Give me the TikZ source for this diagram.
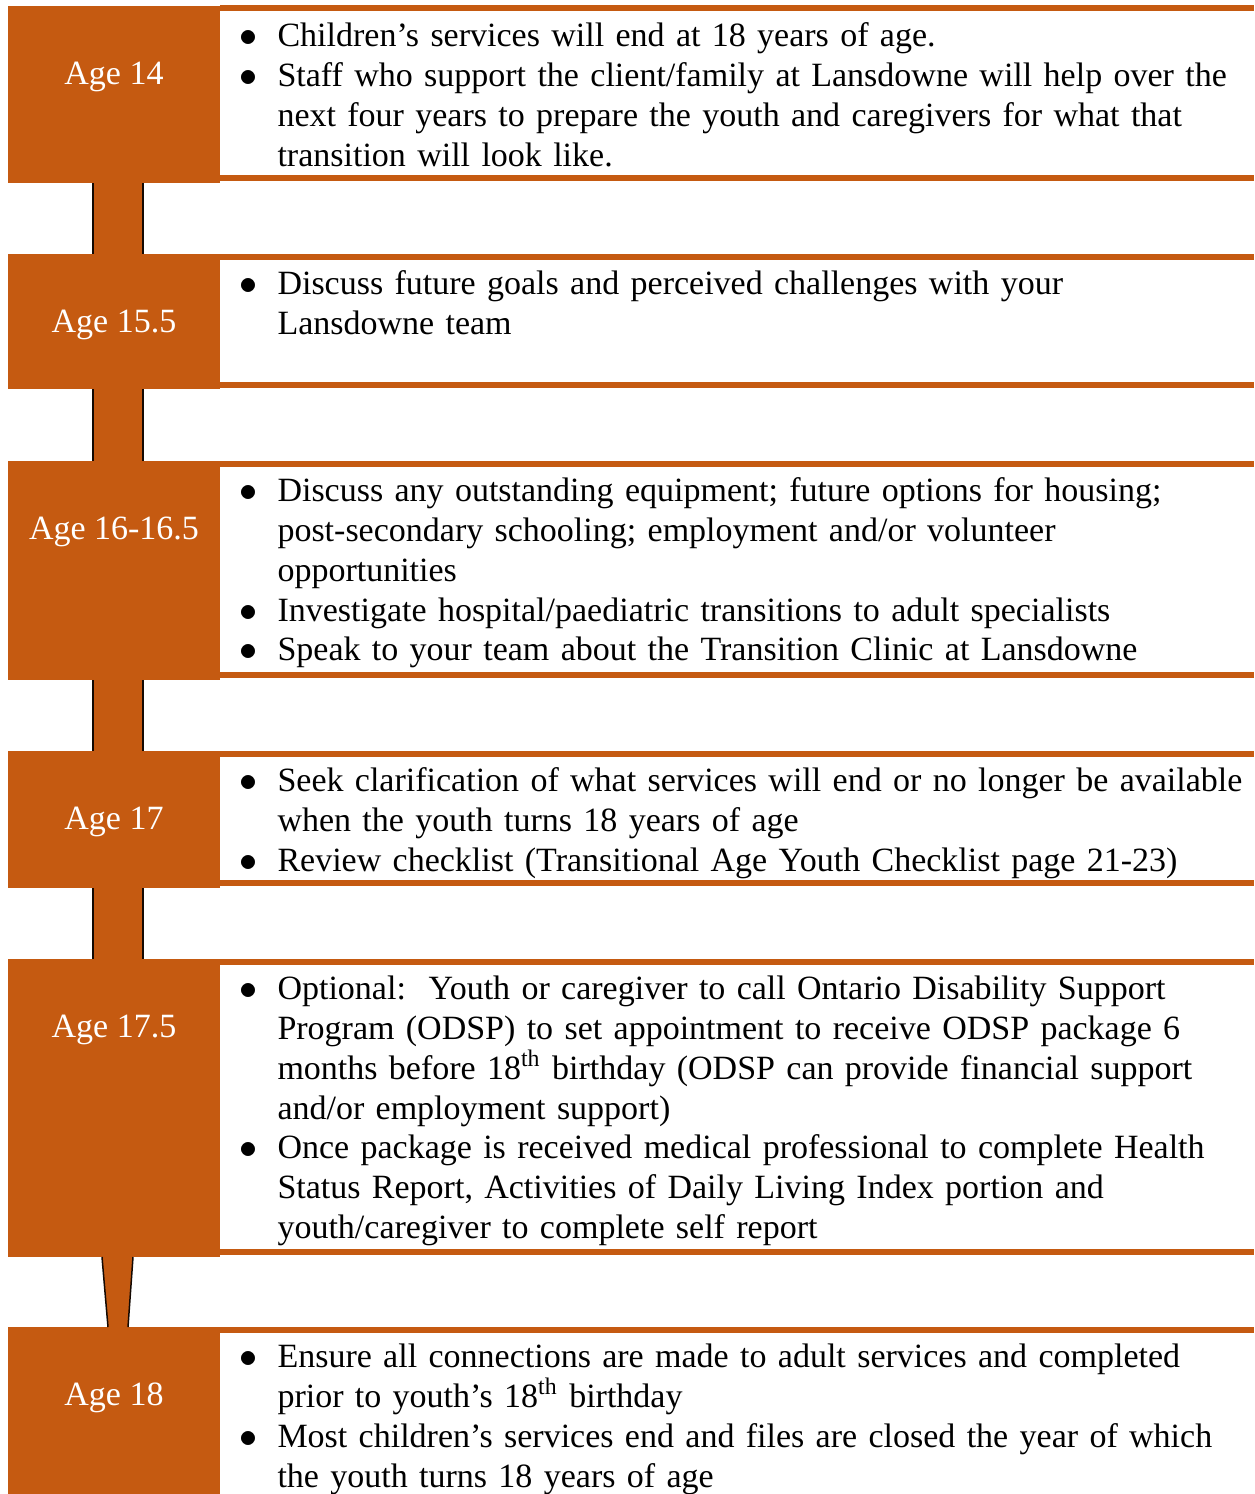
\documentclass[tikz,border=0pt]{standalone}
\usepackage{fontspec}
\setmainfont{Liberation Serif}
\usepackage{enumitem}
\usetikzlibrary{calc,fit}
\definecolor{rust}{HTML}{C55A11}
\setlist[itemize]{nosep, leftmargin=18.8pt, labelsep=8.2pt, label=$\bullet$}

\begin{document}
\begin{tikzpicture}[x=0.4pt, y=-0.4pt,
  agebox/.style={fill=rust, inner sep=0pt, outer sep=0pt},
  agelabel/.style={text=white, anchor=base, inner sep=0pt, font=\fontsize{13.6}{15.9}\selectfont},
  notes/.style={anchor=base west, inner sep=0pt, text width=440pt, align=left, font=\fontsize{13.6}{15.9}\selectfont},
  rule/.style={fill=rust},
  stem/.style={fill=rust},
  stemline/.style={draw=black!90!rust, line width=0.6pt}]

\useasboundingbox (0,0) rectangle (1254,1494);
\clip (0,0) rectangle (1254,1494);

\node[agebox, fit={(8,6) (220,183)}] (b14) {};
\node[agebox, fit={(8,254) (220,389)}] (b155) {};
\node[agebox, fit={(8,461) (220,680)}] (b16) {};
\node[agebox, fit={(8,751) (220,888)}] (b17) {};
\node[agebox, fit={(8,959) (220,1257)}] (b175) {};
\node[agebox, fit={(8,1327) (220,1510)}] (b18) {};

\fill[stem] ($(b14.south)+(-21,0)$) rectangle ($(b155.north)+(29,0)$);
\draw[stemline] ($(b14.south)+(-21,0)$) -- ($(b155.north)+(-21,0)$);
\draw[stemline] ($(b14.south)+(29,0)$) -- ($(b155.north)+(29,0)$);

\fill[stem] ($(b155.south)+(-21,0)$) rectangle ($(b16.north)+(29,0)$);
\draw[stemline] ($(b155.south)+(-21,0)$) -- ($(b16.north)+(-21,0)$);
\draw[stemline] ($(b155.south)+(29,0)$) -- ($(b16.north)+(29,0)$);

\fill[stem] ($(b16.south)+(-21,0)$) rectangle ($(b17.north)+(29,0)$);
\draw[stemline] ($(b16.south)+(-21,0)$) -- ($(b17.north)+(-21,0)$);
\draw[stemline] ($(b16.south)+(29,0)$) -- ($(b17.north)+(29,0)$);

\fill[stem] ($(b17.south)+(-21,0)$) rectangle ($(b175.north)+(29,0)$);
\draw[stemline] ($(b17.south)+(-21,0)$) -- ($(b175.north)+(-21,0)$);
\draw[stemline] ($(b17.south)+(29,0)$) -- ($(b175.north)+(29,0)$);

\fill[stem] ($(b175.south)+(-12,0)$) -- ($(b18.north)+(-6,0)$) -- ($(b18.north)+(14,0)$) -- ($(b175.south)+(19,0)$) -- cycle;
\draw[stemline] ($(b175.south)+(-12,0)$) -- ($(b18.north)+(-6,0)$);
\draw[stemline] ($(b175.south)+(19,0)$) -- ($(b18.north)+(14,0)$);

\fill[rule] (220,5) rectangle (1254,11);
\fill[rule] (220,175) rectangle (1254,181);
\fill[rule] (220,254) rectangle (1254,260);
\fill[rule] (220,382) rectangle (1254,388);
\fill[rule] (220,461) rectangle (1254,467);
\fill[rule] (220,672) rectangle (1254,678);
\fill[rule] (220,751) rectangle (1254,757);
\fill[rule] (220,880) rectangle (1254,886);
\fill[rule] (220,959) rectangle (1254,965);
\fill[rule] (220,1249) rectangle (1254,1255);
\fill[rule] (220,1327) rectangle (1254,1333);

\node[agelabel] (l14) at ($(b14.north)+(0,78.5)$) {Age 14};
\node[agelabel] (l155) at ($(b155.north)+(0,78.5)$) {Age 15.5};
\node[agelabel] (l16) at ($(b16.north)+(0,78.5)$) {Age 16-16.5};
\node[agelabel] (l17) at ($(b17.north)+(0,78.5)$) {Age 17};
\node[agelabel] (l175) at ($(b175.north)+(0,78.5)$) {Age 17.5};
\node[agelabel] (l18) at ($(b18.north)+(0,78.5)$) {Age 18};

\node[notes] (n14) at (230,7) {\begin{itemize}
  \item Children’s services will end at 18 years of age.
  \item Staff who support the client/family at Lansdowne will help over the\\
  next four years to prepare the youth and caregivers for what that\\
  transition will look like.
\end{itemize}};

\node[notes] (n155) at (230,255) {\begin{itemize}
  \item Discuss future goals and perceived challenges with your\\
  Lansdowne team
\end{itemize}};

\node[notes] (n16) at (230,462) {\begin{itemize}
  \item Discuss any outstanding equipment; future options for housing;\\
  post-secondary schooling; employment and/or volunteer\\
  opportunities
  \item Investigate hospital/paediatric transitions to adult specialists
  \item Speak to your team about the Transition Clinic at Lansdowne
\end{itemize}};

\node[notes] (n17) at (230,752) {\begin{itemize}
  \item Seek clarification of what services will end or no longer be available\\
  when the youth turns 18 years of age
  \item Review checklist (Transitional Age Youth Checklist page 21-23)
\end{itemize}};

\node[notes] (n175) at (230,960) {\begin{itemize}
  \item Optional:\ \ Youth or caregiver to call Ontario Disability Support\\
  Program (ODSP) to set appointment to receive ODSP package 6\\
  months before 18\textsuperscript{th} birthday (ODSP can provide financial support\\
  and/or employment support)
  \item Once package is received medical professional to complete Health\\
  Status Report, Activities of Daily Living Index portion and\\
  youth/caregiver to complete self report
\end{itemize}};

\node[notes] (n18) at (230,1328) {\begin{itemize}
  \item Ensure all connections are made to adult services and completed\\
  prior to youth’s 18\textsuperscript{th} birthday
  \item Most children’s services end and files are closed the year of which\\
  the youth turns 18 years of age
\end{itemize}};

\end{tikzpicture}
\end{document}
